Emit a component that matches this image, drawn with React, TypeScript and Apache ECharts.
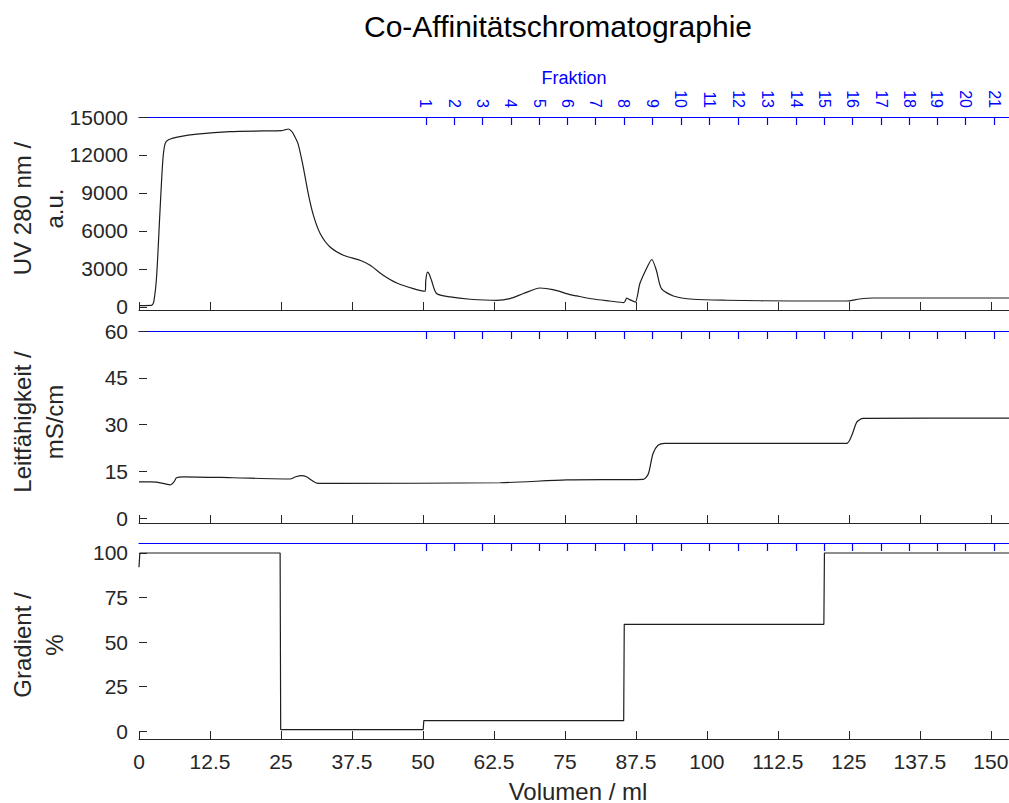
import React, { useEffect, useRef } from "react";
import * as echarts from "echarts";

const titleText = "Co-Affinitätschromatographie";
const volTicks = [0, 12.5, 25, 37.5, 50, 62.5, 75, 87.5, 100, 112.5, 125, 137.5, 150];
const fracPos = [50.5, 55.5, 60.4, 65.5, 70.5, 75.4, 80.4, 85.4, 90.4, 95.4, 100.5, 105.5, 110.6, 115.7, 120.7, 125.6, 130.7, 135.6, 140.5, 145.5, 150.6];
const fracLabels = ["1", "2", "3", "4", "5", "6", "7", "8", "9", "10", "11", "12", "13", "14", "15", "16", "17", "18", "19", "20", "21"];
const uvTicks = [0, 3000, 6000, 9000, 12000, 15000];
const condTicks = [0, 15, 30, 45, 60];
const gradTicks = [0, 25, 50, 75, 100];

const uvVol = [0, 1, 2.2, 2.6, 3.1, 3.7, 4.2, 4.6, 5.2, 7.2, 10.2, 16, 21.9, 25.1, 25.8, 26.3, 26.8, 27.2, 28, 28.9, 29.8, 30.7, 31.9, 33.6, 36, 38.9, 40.7, 43, 45.4, 48.3, 50.4, 50.5, 50.8, 51.1, 51.5, 52.4, 54.8, 58.3, 63, 65.3, 67.7, 70.6, 72.9, 75.9, 77.1, 80, 82.9, 85.4, 85.9, 86.4, 87.4, 88.2, 89.5, 90.3, 91.1, 92, 94.1, 97.6, 103.5, 115.2, 124.6, 126.9, 129.3, 153.2];
const uvVal = [100, 100, 110, 400, 2400, 7600, 11600, 12900, 13200, 13450, 13650, 13850, 13900, 13920, 14000, 14050, 13900, 13650, 12900, 11100, 8950, 7250, 5800, 4750, 4080, 3680, 3290, 2500, 1880, 1440, 1230, 2100, 2750, 2600, 2100, 1050, 780, 600, 510, 650, 1050, 1490, 1360, 970, 860, 620, 460, 330, 700, 570, 380, 1840, 3150, 3740, 2890, 1440, 860, 600, 520, 460, 460, 620, 700, 700];

const condVol = [0, 2, 3.1, 4.5, 5.5, 6.2, 6.6, 7.8, 16.6, 26.6, 27.6, 28.6, 29.5, 30.4, 31.3, 34.2, 63.6, 75.3, 88.8, 89.7, 90.5, 91.4, 92.6, 124.6, 125.5, 126.4, 127.5, 153.2];
const condVal = [11.7, 11.7, 11.6, 11.1, 10.7, 11.8, 13.0, 13.3, 13.0, 12.6, 13.3, 13.7, 13.3, 12.2, 11.3, 11.2, 11.4, 12.3, 12.5, 14.3, 20.7, 23.4, 24.0, 24.0, 26.5, 30.8, 32.0, 32.1];

const gradVol = [0, 0.15, 24.85, 24.95, 50.05, 50.15, 85.35, 85.45, 120.6, 120.7, 153.2];
const gradVal = [92, 100, 100, 1, 1, 6, 6, 60, 60, 100, 100];

const X_MAX = 153.2;
const DARK = "#262626";
const BLUE = "#0000ff";
const FONT = "Liberation Sans";

function pairs(xs: number[], ys: number[]) {
  return xs.map((x, i) => [x, ys[i]]);
}

export default function App() {
  const ref = useRef<HTMLDivElement>(null);
  useEffect(() => {
    if (!ref.current) return;
    const chart = echarts.init(ref.current, null, { renderer: "svg" });
    const grids = [
      { left: 139, width: 870, top: 117, height: 193, outerBoundsMode: "none", containLabel: false },
      { left: 139, width: 870, top: 331, height: 192, outerBoundsMode: "none", containLabel: false },
      { left: 139, width: 870, top: 543, height: 196, outerBoundsMode: "none", containLabel: false },
    ];
    const bottomAxes = [0, 1, 2].map((i) => ({
      type: "value",
      gridIndex: i,
      position: "bottom",
      min: 0,
      max: X_MAX,
      axisLine: { show: true, onZero: false, lineStyle: { color: DARK, width: 1 } },
      axisTick: { show: true, inside: true, length: 8, customValues: volTicks, lineStyle: { color: DARK } },
      axisLabel: {
        show: i === 2,
        customValues: volTicks,
        color: DARK,
        fontSize: 21,
        fontFamily: FONT,
        margin: 12,
        formatter: (v: number) => String(v),
      },
      splitLine: { show: false },
      name: i === 2 ? "Volumen / ml" : "",
      nameLocation: "middle",
      nameGap: 40,
      nameMoveOverlap: false,
      nameTextStyle: { color: DARK, fontSize: 24, fontFamily: FONT, padding: [0, 0, 0, 8] },
    }));
    const topAxes = [0, 1, 2].map((i) => ({
      type: "value",
      gridIndex: i,
      position: "top",
      min: 0,
      max: X_MAX,
      axisLine: { show: true, onZero: false, lineStyle: { color: BLUE, width: 1.2 } },
      axisTick: { show: true, inside: true, length: 8, customValues: fracPos, lineStyle: { color: BLUE, width: 1.2 } },
      axisLabel: {
        show: i === 0,
        customValues: fracPos,
        rotate: 90,
        color: BLUE,
        fontSize: 16,
        fontFamily: FONT,
        margin: 9,
        formatter: (v: number) => {
          let best = 0;
          for (let k = 0; k < fracPos.length; k++) {
            if (Math.abs(fracPos[k] - v) < Math.abs(fracPos[best] - v)) best = k;
          }
          return fracLabels[best];
        },
      },
      splitLine: { show: false },
      name: i === 0 ? "Fraktion" : "",
      nameLocation: "middle",
      nameGap: 30,
      nameMoveOverlap: false,
      nameTextStyle: { color: BLUE, fontSize: 18, fontFamily: FONT },
    }));
    const yDefs = [
      { min: -250, max: 15000, ticks: uvTicks, name: "UV 280 nm /\na.u.", pad: [0, 0, 0, 10] },
      { min: -1.5, max: 60, ticks: condTicks, name: "Leitfähigkeit /\nmS/cm", pad: [0, 0, 0, 10] },
      { min: -4.3, max: 105.6, ticks: gradTicks, name: "Gradient /\n%", pad: [0, 8, 0, 0] },
    ];
    const yAxes = yDefs.map((d, i) => ({
      type: "value",
      gridIndex: i,
      min: d.min,
      max: d.max,
      axisLine: { show: false, onZero: false },
      axisTick: { show: true, inside: true, length: 8, customValues: d.ticks, lineStyle: { color: DARK } },
      axisLabel: {
        customValues: d.ticks,
        color: DARK,
        fontSize: 21,
        fontFamily: FONT,
        margin: 11,
        formatter: (v: number) => String(v),
      },
      splitLine: { show: false },
      name: d.name,
      nameLocation: "middle",
      nameRotate: 90,
      nameGap: 69,
      nameMoveOverlap: false,
      nameTextStyle: { color: DARK, fontSize: 24, fontFamily: FONT, lineHeight: 32, padding: d.pad },
    }));
    const lineStyle = { color: "#1e1e1e", width: 1.2 };
    chart.setOption({
      animation: false,
      backgroundColor: "#ffffff",
      textStyle: { fontFamily: FONT },
      graphic: [
        {
          type: "text",
          x: 558,
          y: 26,
          style: {
            text: titleText,
            fontSize: 30,
            fontFamily: FONT,
            fill: "#000000",
            textAlign: "center",
            textVerticalAlign: "middle",
          },
        },
      ],
      grid: grids,
      xAxis: [...bottomAxes, ...topAxes],
      yAxis: yAxes,
      series: [
        { type: "line", xAxisIndex: 0, yAxisIndex: 0, data: pairs(uvVol, uvVal), showSymbol: false, smooth: 0.25, lineStyle },
        { type: "line", xAxisIndex: 1, yAxisIndex: 1, data: pairs(condVol, condVal), showSymbol: false, smooth: 0.25, lineStyle },
        { type: "line", xAxisIndex: 2, yAxisIndex: 2, data: pairs(gradVol, gradVal), showSymbol: false, lineStyle },
      ],
    });
    return () => chart.dispose();
  }, []);
  return (
    <div
      ref={ref}
      style={{ position: "fixed", left: 0, top: 0, width: 1009, height: 803, background: "#fff" }}
    />
  );
}
